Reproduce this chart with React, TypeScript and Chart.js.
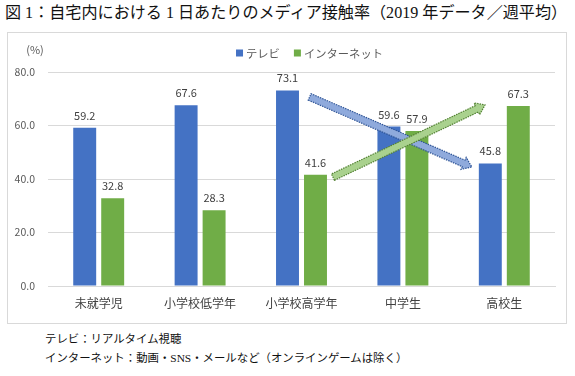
import React, { useEffect, useRef } from "react";
import { Chart, registerables } from "chart.js";

Chart.register(...registerables);

const categories = ["未就学児", "小学校低学年", "小学校高学年", "中学生", "高校生"];
const tvValues = [59.2, 67.6, 73.1, 59.6, 45.8];
const netValues = [32.8, 28.3, 41.6, 57.9, 67.3];
const seriesNames = ["テレビ", "インターネット"];
const yTicks = [0, 20, 40, 60, 80];
// trend arrows in data coordinates: [startIndex, startValue, endIndex, endValue]
const tvArrow = [2.08, 70.7, 3.68, 44.5];
const netArrow = [2.31, 40.7, 3.81, 67.7];

const TITLE = "図 1：自宅内における 1 日あたりのメディア接触率（2019 年データ／週平均）";
const NOTE1 = "テレビ：リアルタイム視聴";
const NOTE2 = "インターネット：動画・SNS・メールなど（オンラインゲームは除く）";

const BLUE = "#4472C4";
const GREEN = "#70AD47";
const FONT = "'Noto Sans CJK JP', 'Noto Sans', sans-serif";

function drawArrow(ctx: CanvasRenderingContext2D, x1: number, y1: number, x2: number, y2: number, fill: string, stroke: string) {
  const dx = x2 - x1, dy = y2 - y1;
  const len = Math.hypot(dx, dy);
  const ux = dx / len, uy = dy / len;
  const px = -uy, py = ux;
  const sw = 3.5, hw = 6.5, hl = 9;
  const bx = x2 - ux * hl, by = y2 - uy * hl;
  ctx.save();
  ctx.beginPath();
  ctx.moveTo(x1 + px * sw, y1 + py * sw);
  ctx.lineTo(bx + px * sw, by + py * sw);
  ctx.lineTo(bx + px * hw, by + py * hw);
  ctx.lineTo(x2, y2);
  ctx.lineTo(bx - px * hw, by - py * hw);
  ctx.lineTo(bx - px * sw, by - py * sw);
  ctx.lineTo(x1 - px * sw, y1 - py * sw);
  ctx.closePath();
  ctx.fillStyle = fill;
  ctx.fill();
  ctx.lineWidth = 1.2;
  ctx.strokeStyle = stroke;
  ctx.setLineDash([1.5, 1]);
  ctx.stroke();
  ctx.restore();
}

const extrasPlugin = {
  id: "extras",
  afterDatasetsDraw(chart: any) {
    const ctx: CanvasRenderingContext2D = chart.ctx;
    const area = chart.chartArea;
    const xs = chart.scales.x;
    const ys = chart.scales.y;
    // value labels
    ctx.save();
    ctx.font = `11px ${FONT}`;
    ctx.fillStyle = "#404040";
    ctx.textAlign = "center";
    ctx.textBaseline = "alphabetic";
    chart.data.datasets.forEach((ds: any, di: number) => {
      const meta = chart.getDatasetMeta(di);
      meta.data.forEach((bar: any, i: number) => {
        ctx.fillText(Number(ds.data[i]).toFixed(1), bar.x, bar.y - 8);
      });
    });
    ctx.restore();
    // arrows
    const a = tvArrow;
    drawArrow(ctx, xs.getPixelForValue(a[0]), ys.getPixelForValue(a[1]), xs.getPixelForValue(a[2]), ys.getPixelForValue(a[3]), "#8FAADC", "#2F5597");
    const b = netArrow;
    drawArrow(ctx, xs.getPixelForValue(b[0]), ys.getPixelForValue(b[1]), xs.getPixelForValue(b[2]), ys.getPixelForValue(b[3]), "#A9D18E", "#548235");
    // unit label
    ctx.save();
    ctx.font = `11px ${FONT}`;
    ctx.fillStyle = "#595959";
    ctx.textAlign = "center";
    ctx.textBaseline = "middle";
    ctx.fillText("(%)", area.left - 13, area.top - 22);
    // legend
    ctx.font = `11.3px ${FONT}`;
    const box = 7, gapText = 3, gapItem = 14;
    const items = chart.data.datasets.map((ds: any) => ({ label: ds.label, color: ds.backgroundColor }));
    let total = 0;
    items.forEach((it: any, i: number) => {
      total += box + gapText + ctx.measureText(it.label).width + (i < items.length - 1 ? gapItem : 0);
    });
    let x = (area.left + area.right) / 2 + 8 - total / 2;
    const ly = area.top - 19;
    ctx.textAlign = "left";
    items.forEach((it: any) => {
      ctx.fillStyle = it.color;
      ctx.fillRect(x, ly - box / 2, box, box);
      x += box + gapText;
      ctx.fillStyle = "#595959";
      ctx.fillText(it.label, x, ly + 0.5);
      x += ctx.measureText(it.label).width + gapItem;
    });
    ctx.restore();
  },
};

export default function App() {
  const ref = useRef<HTMLCanvasElement>(null);
  useEffect(() => {
    if (!ref.current) return;
    const chart = new Chart(ref.current, {
      type: "bar",
      data: {
        labels: categories,
        datasets: [
          { label: seriesNames[0], data: tvValues, backgroundColor: BLUE },
          { label: seriesNames[1], data: netValues, backgroundColor: GREEN },
        ],
      },
      options: {
        animation: false,
        responsive: false,
        maintainAspectRatio: false,
        layout: { padding: { top: 39, left: 0, right: 11, bottom: 0 } },
        datasets: { bar: { categoryPercentage: 0.552, barPercentage: 0.82 } },
        plugins: { legend: { display: false }, tooltip: { enabled: false } },
        scales: {
          x: {
            grid: { display: false, drawTicks: false },
            border: { display: true, color: "#D9D9D9" },
            ticks: { color: "#404040", font: { family: FONT, size: 12 }, padding: 10 },
            afterFit: (s: any) => { s.height = 37; },
          },
          y: {
            min: 0,
            max: 80,
            afterBuildTicks: (s: any) => { s.ticks = yTicks.map((v) => ({ value: v })); },
            grid: { color: "#D9D9D9", drawTicks: false },
            border: { display: false },
            ticks: {
              color: "#595959",
              font: { family: FONT, size: 10.5 },
              padding: 13,
              callback: (v: any) => Number(v).toFixed(1),
            },
            afterFit: (s: any) => { s.width = 40; },
          },
        },
      },
      plugins: [extrasPlugin],
    });
    return () => chart.destroy();
  }, []);

  return (
    <div style={{ position: "fixed", left: 0, top: 0, width: 575, height: 376, background: "#fff", overflow: "hidden" }}>
      <div style={{ position: "absolute", left: 5, top: 3, fontFamily: "'Liberation Serif', 'Noto Sans CJK JP', serif", fontSize: 16.1, whiteSpace: "nowrap", color: "#111", lineHeight: "20px" }}>
        {TITLE}
      </div>
      <div style={{ position: "absolute", left: 7, top: 32, width: 558, height: 290, border: "1px solid #D9D9D9" }}>
        <canvas ref={ref} width={558} height={290} style={{ display: "block", width: 558, height: 290 }} />
      </div>
      <div style={{ position: "absolute", left: 45, top: 329.5, fontFamily: "'Liberation Serif', 'Noto Sans CJK JP', serif", fontSize: 11.4, lineHeight: "19px", color: "#111", whiteSpace: "nowrap" }}>
        <div>{NOTE1}</div>
        <div>{NOTE2}</div>
      </div>
    </div>
  );
}
